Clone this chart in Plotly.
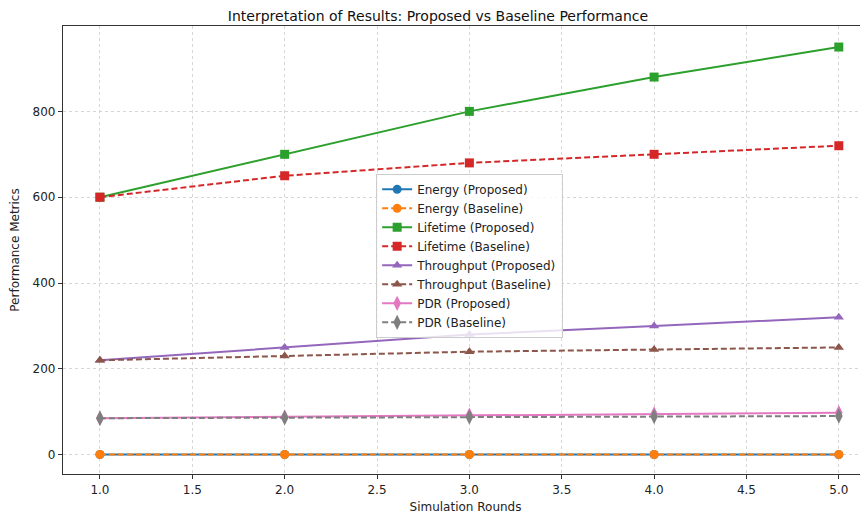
import plotly.graph_objects as go

rounds = [1, 2, 3, 4, 5]
energy_proposed = [0.5, 0.45, 0.4, 0.35, 0.3]
energy_baseline = [0.5, 0.5, 0.5, 0.5, 0.5]
lifetime_proposed = [600, 700, 800, 880, 950]
lifetime_baseline = [600, 650, 680, 700, 720]
throughput_proposed = [220, 250, 280, 300, 320]
throughput_baseline = [220, 230, 240, 245, 250]
pdr_proposed = [85, 88, 92, 95, 98]
pdr_baseline = [85, 86, 88, 89, 90]

series = [
    ("Energy (Proposed)", energy_proposed, "#1f77b4", "solid", "circle"),
    ("Energy (Baseline)", energy_baseline, "#ff7f0e", "dash", "circle"),
    ("Lifetime (Proposed)", lifetime_proposed, "#2ca02c", "solid", "square"),
    ("Lifetime (Baseline)", lifetime_baseline, "#d62728", "dash", "square"),
    ("Throughput (Proposed)", throughput_proposed, "#9467bd", "solid", "triangle-up"),
    ("Throughput (Baseline)", throughput_baseline, "#8c564b", "dash", "triangle-up"),
    ("PDR (Proposed)", pdr_proposed, "#e377c2", "solid", "diamond-tall"),
    ("PDR (Baseline)", pdr_baseline, "#7f7f7f", "dash", "diamond-tall"),
]

fig = go.Figure()
for name, vals, color, dash, sym in series:
    fig.add_trace(go.Scatter(
        x=rounds, y=vals, name=name, mode="lines+markers",
        line=dict(color=color, width=2, dash="6px,3px" if dash == "dash" else "solid"),
        marker=dict(symbol=sym, size=9 if sym != "diamond-tall" else 11, color=color),
    ))

axis_common = dict(
    showline=True, linecolor="#333", linewidth=1.2,
    ticks="outside", ticklen=4, tickcolor="#333",
    showgrid=True, gridcolor="#d6d6d6", griddash="3px,3px", gridwidth=1,
    zeroline=False, tickfont=dict(size=12, color="#222"), automargin=False,
)

fig.update_layout(
    width=860, height=508,
    paper_bgcolor="white", plot_bgcolor="white",
    font=dict(family="DejaVu Sans", size=12, color="#222"),
    title=dict(text="Interpretation of Results: Proposed vs Baseline Performance",
               x=0.5, xanchor="center", y=1 - 8 / 508, yanchor="middle", font=dict(size=14, color="#111")),
    margin=dict(l=55, r=0, t=18, b=42),
    xaxis=dict(title=dict(text="Simulation Rounds", font=dict(size=12), standoff=7),
               range=[0.8, 5.158], mirror=True,
               tickvals=[1, 1.5, 2, 2.5, 3, 3.5, 4, 4.5, 5],
               ticktext=["1.0", "1.5", "2.0", "2.5", "3.0", "3.5", "4.0", "4.5", "5.0"], **axis_common),
    yaxis=dict(title=dict(text="Performance Metrics", font=dict(size=12), standoff=12),
               range=[-45, 999], mirror=False, tickvals=[0, 200, 400, 600, 800], **axis_common),
    legend=dict(x=0.389, y=0.670, xanchor="left", yanchor="top",
                bgcolor="rgba(255,255,255,0.8)", bordercolor="#cccccc", borderwidth=1,
                font=dict(size=12), tracegroupgap=0, itemwidth=30),
    showlegend=True,
)

fig.write_html("out.html")
